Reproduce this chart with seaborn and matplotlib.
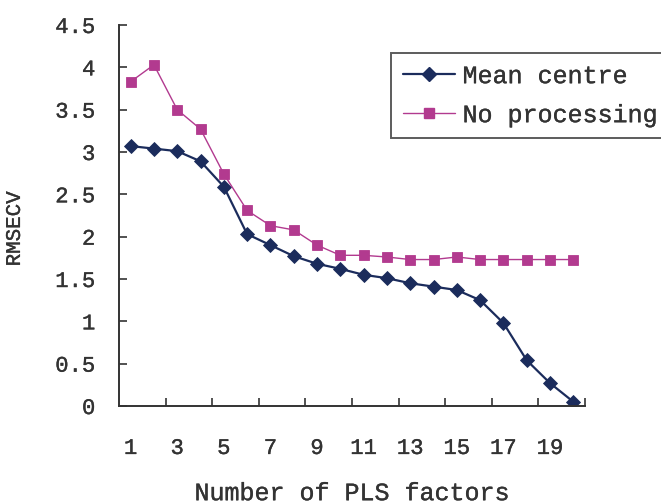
import matplotlib
matplotlib.use("Agg")
import matplotlib.pyplot as plt
import matplotlib.patheffects as pe
from matplotlib.ticker import FixedLocator
import seaborn as sns
import pandas as pd

# RMSECV against number of PLS factors for two pre-treatments
factors = list(range(1, 21))
mean_centre = [3.07, 3.04, 3.01, 2.89, 2.59, 2.03, 1.90, 1.77, 1.68, 1.62,
               1.55, 1.51, 1.45, 1.41, 1.37, 1.25, 0.98, 0.54, 0.27, 0.05]
no_processing = [3.83, 4.03, 3.50, 3.27, 2.74, 2.31, 2.13, 2.08, 1.90, 1.78,
                 1.78, 1.76, 1.73, 1.73, 1.76, 1.73, 1.73, 1.73, 1.73, 1.73]
series_names = ["Mean centre", "No processing"]
x_tick_labels = [str(v) for v in range(1, 20, 2)]
y_ticks = [0, 0.5, 1, 1.5, 2, 2.5, 3, 3.5, 4, 4.5]
y_tick_labels = ["0", "0.5", "1", "1.5", "2", "2.5", "3", "3.5", "4", "4.5"]

sns.set_style("white")
plt.rcParams["font.family"] = ["Liberation Mono", "DejaVu Sans Mono"]

df = pd.DataFrame({
    "factors": factors * 2,
    "rmsecv": mean_centre + no_processing,
    "method": [series_names[0]] * len(factors) + [series_names[1]] * len(factors),
})

fig = plt.figure(figsize=(6.61, 5.04), dpi=100)
ax = fig.add_axes([0.180, 0.1944, 0.705, 0.756])

ink = "#333333"
heavy = [pe.withStroke(linewidth=0.25, foreground=ink)]
palette = {series_names[0]: "#1b2c5c", series_names[1]: "#b23a8f"}
markers = {series_names[0]: "D", series_names[1]: "s"}
widths = {series_names[0]: 1.6, series_names[1]: 1.0}

sns.lineplot(data=df, x="factors", y="rmsecv", hue="method", style="method",
             palette=palette, markers=markers, dashes=False, ax=ax,
             markersize=7.5, markeredgewidth=0.6, legend=False)
for line, name in zip(ax.get_lines(), series_names):
    line.set_linewidth(widths[name])
    line.set_markeredgecolor(line.get_color())

ax.set_xlim(0.5, 20.5)
ax.set_ylim(0, 4.5)

# labelled categories without marks; marks sit on the category boundaries
ax.xaxis.set_major_locator(FixedLocator(list(range(1, 20, 2))))
ax.set_xticklabels(x_tick_labels)
ax.xaxis.set_minor_locator(FixedLocator([i + 0.5 for i in range(2, 21, 2)]))
ax.tick_params(axis="x", which="major", bottom=True, length=0, pad=23,
               labelsize=16, labelcolor=ink)
ax.tick_params(axis="x", which="minor", bottom=True, direction="in",
               length=6, width=1.2, color=ink)

ax.set_yticks(y_ticks)
ax.set_yticklabels(y_tick_labels)
ax.tick_params(axis="y", which="major", left=True, direction="in", length=6,
               width=1.2, color=ink, pad=17, labelsize=16, labelcolor=ink)

for side in ["top", "right"]:
    ax.spines[side].set_visible(False)
for side in ["left", "bottom"]:
    ax.spines[side].set_color(ink)
    ax.spines[side].set_linewidth(1.4)

ax.set_xlabel("Number of PLS factors", fontsize=18, color=ink, labelpad=16)
ax.set_ylabel("RMSECV", fontsize=15, color=ink)
ax.yaxis.set_label_coords(-0.204, 0.465)

handles = [
    plt.Line2D([], [], color=palette[n], marker=markers[n], markersize=7.5,
               markeredgecolor=palette[n], linewidth=widths[n])
    for n in series_names
]
leg = fig.legend(handles, series_names, loc="upper left",
                 bbox_to_anchor=(0.592, 0.895), borderaxespad=0,
                 fontsize=18, handlelength=2.1, handletextpad=0.3,
                 borderpad=0.45, labelspacing=0.6, frameon=True, fancybox=False)
frame = leg.get_frame()
frame.set_edgecolor(ink)
frame.set_linewidth(1.4)

texts = (list(leg.get_texts()) + ax.get_xticklabels() + ax.get_yticklabels()
         + [ax.xaxis.label, ax.yaxis.label])
for t in texts:
    t.set_color(ink)
    t.set_path_effects(heavy)

fig.savefig("out.png", dpi=100, facecolor="white")
